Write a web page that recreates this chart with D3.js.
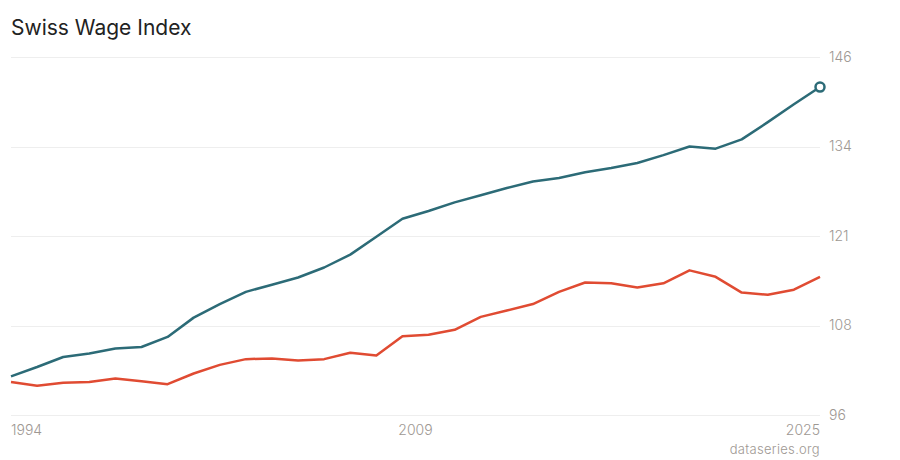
<!DOCTYPE html>
<html>
<head>
<meta charset="utf-8">
<script src="https://cdn.jsdelivr.net/npm/d3@7"></script>
<style>
  body { margin: 0; background: #fff; }
  svg text { font-family: Inter, "Noto Sans", sans-serif; font-weight: 300; }
</style>
</head>
<body>
<div class="canvas"></div>
<script>
// yearly index values
const years = d3.range(1994, 2026);
const nominal = [101.4, 102.7, 104.1, 104.6, 105.3, 105.5, 106.9, 109.6, 111.5, 113.2,
  114.2, 115.2, 116.6, 118.4, 120.9, 123.4, 124.5, 125.7, 126.7, 127.7,
  128.6, 129.1, 129.9, 130.5, 131.2, 132.3, 133.5, 133.2, 134.5, 136.9,
  139.4, 141.8];
const real = [100.6, 100.1, 100.5, 100.6, 101.1, 100.7, 100.3, 101.8, 103.0, 103.8,
  103.9, 103.6, 103.8, 104.7, 104.3, 107.0, 107.2, 107.9, 109.7, 110.6,
  111.5, 113.2, 114.5, 114.4, 113.8, 114.4, 116.2, 115.3, 113.1, 112.8,
  113.5, 115.3];
const yTicks = [96, 108.5, 121, 133.5, 146];
const yTickLabels = ['96', '108', '121', '134', '146'];
const xLabels = [
  { year: 1994, text: '1994', anchor: 'start' },
  { year: 2009.5, text: '2009', anchor: 'middle' },
  { year: 2025, text: '2025', anchor: 'end' }
];

draw_chart();

function draw_chart() {
  const width = 900, height = 460;
  const left = 11, right = 820, top = 57, bottom = 415;

  const svg = d3.select('.canvas')
    .append('svg')
    .attr('width', width)
    .attr('height', height);

  const x = d3.scaleLinear().domain([1994, 2025]).range([left, right]);
  const y = d3.scaleLinear().domain([96, 146]).range([bottom, top]);

  // title
  svg.append('text')
    .attr('x', left)
    .attr('y', 35)
    .attr('fill', '#222')
    .style('font-size', '21px')
    .style('font-weight', 400)
    .text('Swiss Wage Index');

  // grid lines + right side labels
  svg.selectAll('.grid')
    .data(yTicks)
    .enter().append('line')
    .attr('x1', left)
    .attr('x2', right)
    .attr('y1', d => Math.round(y(d)) + 0.5)
    .attr('y2', d => Math.round(y(d)) + 0.5)
    .attr('stroke', '#eeeeee')
    .attr('stroke-width', 1);

  svg.selectAll('.ylab')
    .data(yTicks)
    .enter().append('text')
    .attr('x', 829)
    .attr('y', d => y(d))
    .attr('dy', '0.35em')
    .attr('fill', '#9e9893')
    .style('font-size', '14px')
    .text((d, i) => yTickLabels[i]);

  svg.selectAll('.xlab')
    .data(xLabels)
    .enter().append('text')
    .attr('x', d => x(d.year))
    .attr('y', 435)
    .attr('text-anchor', d => d.anchor)
    .attr('fill', '#9e9893')
    .style('font-size', '14px')
    .text(d => d.text);

  svg.append('text')
    .attr('x', right)
    .attr('y', 454)
    .attr('text-anchor', 'end')
    .attr('fill', '#9e9893')
    .style('font-size', '13px')
    .style('letter-spacing', '0.3px')
    .text('dataseries.org');

  const line = d3.line()
    .x((d, i) => x(years[i]))
    .y(d => y(d));

  svg.append('path')
    .datum(real)
    .attr('d', line)
    .attr('fill', 'none')
    .attr('stroke', '#e04b32')
    .attr('stroke-width', 2.5)
    .attr('stroke-linejoin', 'round');

  svg.append('path')
    .datum(nominal)
    .attr('d', line)
    .attr('fill', 'none')
    .attr('stroke', '#2c6b77')
    .attr('stroke-width', 2.5)
    .attr('stroke-linejoin', 'round');

  // marker on last nominal value
  const last = nominal.length - 1;
  svg.append('circle')
    .attr('cx', x(years[last]))
    .attr('cy', y(nominal[last]))
    .attr('r', 4.5)
    .attr('fill', '#fff')
    .attr('stroke', '#2c6b77')
    .attr('stroke-width', 2.5);
}
</script>
</body>
</html>
